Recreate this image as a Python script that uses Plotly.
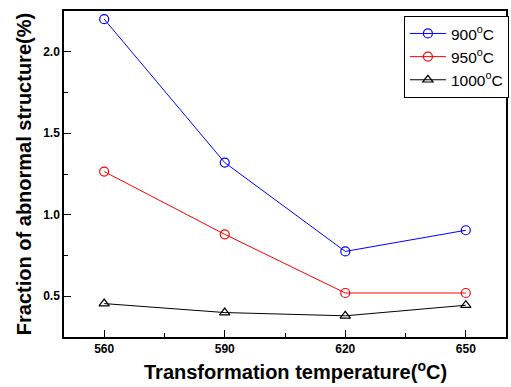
import plotly.graph_objects as go

temps = [560, 590, 620, 650]
s900 = [2.20, 1.32, 0.775, 0.905]
s950 = [1.265, 0.88, 0.52, 0.52]
s1000 = [0.455, 0.40, 0.38, 0.445]
names = ["900<sup>o</sup>C", "950<sup>o</sup>C", "1000<sup>o</sup>C"]
colors = ["#0000ff", "#ff0000", "#000000"]
symbols = ["circle-open", "circle-open", "triangle-up-open"]
x_title = "Transformation temperature(<sup>o</sup>C)"
y_title = "Fraction of abnormal structure(%)"

fig = go.Figure()
for ys, nm, c, sym in zip([s900, s950, s1000], names, colors, symbols):
    fig.add_trace(go.Scatter(
        x=temps, y=ys, name=nm, mode="lines+markers",
        line=dict(color=c, width=1),
        marker=dict(symbol=sym, size=9, color=c, line=dict(width=1.2, color=c)),
    ))

font = "Arial, Liberation Sans, sans-serif"
fig.update_layout(
    width=511, height=387,
    margin=dict(l=64, r=2, t=11, b=50),
    plot_bgcolor="white", paper_bgcolor="white",
    font=dict(family=font, color="black"),
    showlegend=True,
    legend=dict(
        x=0.769, y=0.985, xanchor="left", yanchor="top",
        bordercolor="black", borderwidth=1, bgcolor="white",
        font=dict(size=15.5, family=font),
        itemwidth=36, tracegroupgap=0,
    ),
    xaxis=dict(
        range=[550, 660], tickvals=temps, ticktext=[str(t) for t in temps],
        showline=True, linecolor="black", linewidth=1.5, mirror=True,
        ticks="inside", ticklen=7, tickwidth=1.2, tickcolor="black",
        minor=dict(tickvals=[575, 605, 635], ticks="inside", ticklen=4, tickwidth=1.2, tickcolor="black"),
        showgrid=False, zeroline=False,
        tickfont=dict(size=12, family=font, weight="bold"),
    ),
    yaxis=dict(
        range=[0.25, 2.25], tickvals=[0.5, 1.0, 1.5, 2.0], ticktext=["0.5", "1.0", "1.5", "2.0"],
        showline=True, linecolor="black", linewidth=1.5, mirror=True,
        ticks="inside", ticklen=7, tickwidth=1.2, tickcolor="black",
        minor=dict(tickvals=[0.75, 1.25, 1.75], ticks="inside", ticklen=4, tickwidth=1.2, tickcolor="black"),
        showgrid=False, zeroline=False,
        tickfont=dict(size=12, family=font, weight="bold"),
        title=dict(text=y_title, standoff=6,
                   font=dict(size=20, family=font, weight="bold")),
    ),
    annotations=[dict(
        text=x_title, xref="paper", yref="paper", x=0.524, y=-0.058,
        xanchor="center", yanchor="top", showarrow=False,
        font=dict(size=20, family=font, weight="bold"),
    )],
)
fig.write_html("out.html")
